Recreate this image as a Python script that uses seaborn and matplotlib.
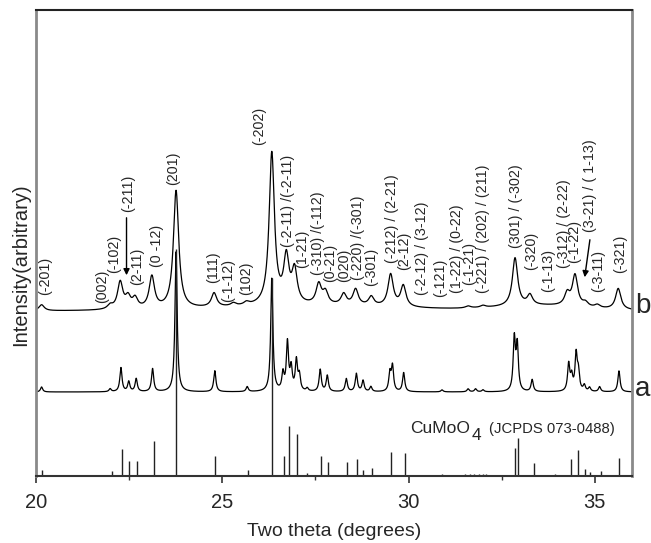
import numpy as np
import pandas as pd
import matplotlib
matplotlib.use("Agg")
import matplotlib.pyplot as plt
from matplotlib.ticker import MultipleLocator
import seaborn as sns

# ---------------- data ----------------
# reference stick pattern CuMoO4 (JCPDS 073-0488): positions (2theta) and heights
stick_pos = [20.16, 22.04, 22.32, 22.50, 22.70, 23.17, 23.76, 24.81, 25.27, 25.69,
             26.33, 26.67, 26.78, 27.00, 27.28, 27.65, 27.84, 28.34, 28.61, 28.79,
             29.02, 29.52, 29.90, 30.48, 30.90, 31.51, 31.64, 31.77, 31.90, 32.00,
             32.09, 32.85, 32.93, 33.36, 33.92, 34.35, 34.56, 34.74, 34.86, 35.16, 35.65]
stick_h = [6, 5, 27, 15, 15, 35, 227, 20, 1, 6,
           198, 20, 50, 42, 3, 20, 14, 14, 17, 6,
           8, 24, 23, 1, 2, 2, 2, 2, 2, 2,
           2, 28, 38, 13, 2, 17, 26, 7, 4, 5, 18]

# pattern a: baseline and peak list
a_base = 84
a_pos = [20.15, 21.99, 22.28, 22.49, 22.69, 23.13, 23.76, 24.80, 25.67, 26.33,
         26.63, 26.75, 26.85, 26.99, 27.07, 27.28, 27.63, 27.82, 28.33, 28.60,
         28.78, 28.99, 29.50, 29.57, 29.87, 30.90, 31.60, 31.80, 32.00, 32.84,
         32.92, 33.32, 34.30, 34.38, 34.50, 34.56, 34.72, 34.86, 35.13, 35.65]
a_h = [5, 3, 24, 10, 13, 23, 140, 21, 5, 113,
       17, 48, 22, 30, 15, 3, 22, 16, 13, 18,
       11, 5, 18, 25, 19, 2, 3, 3, 2, 52,
       45, 12, 27, 14, 36, 18, 6, 4, 5, 21]

# pattern b: baseline, broad background humps and peak list
b_base = 165
b_hump_pos = [27.5, 33.6]
b_hump_h = [5, 5]
b_hump_w = [2.5, 1.2]
b_pos = [20.15, 21.99, 22.26, 22.47, 22.66, 23.11, 23.76, 24.78, 25.30, 25.65,
         26.33, 26.72, 26.94, 27.59, 27.77, 28.26, 28.58, 29.00, 29.52, 29.86,
         31.60, 32.00, 32.86, 33.26, 34.26, 34.47, 34.75, 35.07, 35.63]
b_h = [6, 4, 27, 11, 10, 32, 118, 14, 3, 3,
       152, 45, 33, 20, 12, 11, 16, 9, 32, 21,
       2, 2, 48, 10, 12, 31, 4, 3, 21]

labels = ["(-201)", "(002)", "(-102)", "(-211)", "(2-11)", "(0 -12)", "(201)", "(111)",
          "(-1-12)", "(102)", "(-202)", "(-2-11) /(-2-11)", "(1-21)", "(-310) /(-112)",
          "(0-21)", "(020)", "(-220) /(-301)", "(-301)", "(-212) / (2-21)", "(2-12)",
          "(-2-12) / (3-12)", "(-121)", "(1-22) / (0-22)", "(-1-21)",
          "(-221) / (202) / (211)", "(301) / (-302)", "(-320)", "(-1-13)",
          "(-312) / (2-22)", "(-1-22)", "(3-21) / ( 1-13)", "(-3-11)", "(-321)"]
label_x = [20.24, 21.77, 22.10, 22.46, 22.72, 23.24, 23.69, 24.75, 25.15, 25.65,
           26.00, 26.76, 27.14, 27.58, 27.90, 28.26, 28.64, 29.00, 29.56, 29.87,
           30.37, 30.86, 31.29, 31.62, 32.00, 32.88, 33.30, 33.76, 34.18, 34.45,
           34.87, 35.10, 35.67]
label_y = [181, 173, 203, 264, 191, 209, 291, 193, 174, 181,
           331, 229, 208, 201, 194, 194, 196, 190, 213, 206,
           181, 179, 183, 191, 183, 228, 206, 184, 208, 213,
           244, 184, 203]

# ---------------- build curves from the peak lists ----------------
x = np.linspace(20, 36, 3201)


def lor(xx, pos, h, g):
    out = np.zeros_like(xx)
    for p, hh in zip(pos, h):
        out += hh * g**2 / ((xx - p) ** 2 + g**2)
    return out


ya = a_base + lor(x, a_pos, a_h, 0.035)
yb = b_base + lor(x, b_pos, b_h, 0.085)
for p, hh, w in zip(b_hump_pos, b_hump_h, b_hump_w):
    yb += hh * np.exp(-0.5 * ((x - p) / w) ** 2)

df = pd.DataFrame({"x": np.concatenate([x, x]),
                   "y": np.concatenate([ya, yb]),
                   "s": ["a"] * len(x) + ["b"] * len(x)})

# ---------------- plotting ----------------
sns.set_theme(style="ticks")
plt.rcParams["font.family"] = ["Liberation Sans", "DejaVu Sans"]
plt.rcParams["mathtext.default"] = "regular"

fig = plt.figure(figsize=(6.51, 5.43), dpi=100)
ax = fig.add_axes([36 / 651, 1 - 476 / 543, (632 - 36) / 651, (476 - 10) / 543])

sns.lineplot(data=df, x="x", y="y", units="s", estimator=None, sort=False,
             color="black", lw=0.9, ax=ax)
ax.vlines(stick_pos, 0, stick_h, color="#222222", lw=1.0)

ax.set_xlim(20, 36)
ax.set_ylim(0, 466)
ax.xaxis.set_major_locator(MultipleLocator(5))
ax.xaxis.set_minor_locator(MultipleLocator(2.5))
ax.tick_params(axis="x", which="major", direction="out", length=5, width=1.2,
               labelsize=14.5, pad=7, color="#333333")
ax.tick_params(axis="x", which="minor", direction="out", length=3, width=1.0,
               color="#333333")
ax.set_yticks([])

for side, col, lw in [("left", "#8a8a8a", 2.0), ("right", "#8a8a8a", 2.0),
                      ("top", "#222222", 1.5), ("bottom", "#333333", 1.5)]:
    ax.spines[side].set_color(col)
    ax.spines[side].set_linewidth(lw)
    ax.spines[side].set_visible(True)

ax.set_xlabel("Two theta (degrees)", fontsize=14, labelpad=8)
ax.set_ylabel("Intensity(arbitrary)", fontsize=14.5)
ax.yaxis.set_label_coords(-0.0095, 0.453)

for t, lx, ly in zip(labels, label_x, label_y):
    ax.text(lx, ly, t, rotation=90, ha="center", va="bottom", fontsize=10.3)

arrow = dict(arrowstyle="-|>", color="black", lw=1.0, mutation_scale=9)
ax.annotate("", xy=(22.43, 198), xytext=(22.43, 261), arrowprops=arrow)
ax.annotate("", xy=(34.72, 196), xytext=(34.88, 239), arrowprops=arrow)

ax.text(30.05, 43, "CuMoO", fontsize=12.5, ha="left", va="baseline")
ax.text(31.70, 36, "4", fontsize=12.5, ha="left", va="baseline")
ax.text(32.15, 43, "(JCPDS 073-0488)", fontsize=10.7, ha="left", va="baseline")

ax.text(1.005, (476 - 313) / 466, "b", transform=ax.transAxes, fontsize=20,
        ha="left", va="baseline", clip_on=False)
ax.text(1.005, (476 - 396) / 466, "a", transform=ax.transAxes, fontsize=20,
        ha="left", va="baseline", clip_on=False)

fig.savefig("out.png", dpi=100)
